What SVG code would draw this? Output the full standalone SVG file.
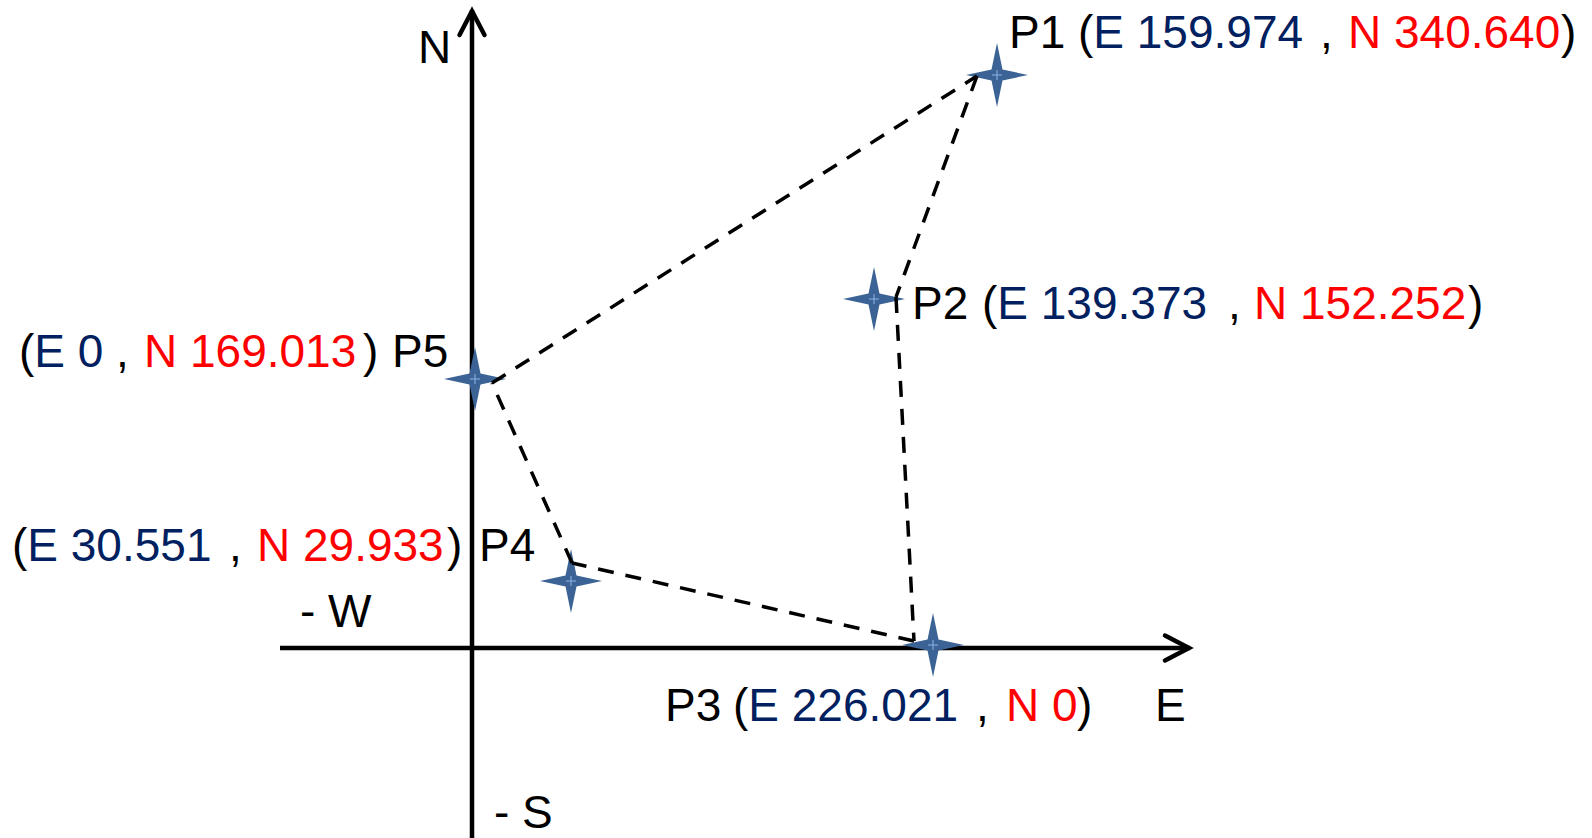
<svg xmlns="http://www.w3.org/2000/svg" width="1592" height="838" viewBox="0 0 1592 838">
  <style>
    text { font-family: "Liberation Sans", Arial, sans-serif; font-size: 46px; fill: #000; }
    .e { fill: #002060; }
    .n { fill: #FF0000; }
    .axis { stroke: #000; stroke-width: 4.5; fill: none; }
    .dash { stroke: #000; stroke-width: 3.5; fill: none; stroke-dasharray: 16 12; }
    .star { fill: #3C6396; }
    .glint { stroke: #8FB4E3; stroke-width: 1; }
  </style>
  <defs>
    <path id="star4" d="M0,-32 L5.5,-5.5 L31,0 L5.5,5.5 L0,32 L-5.5,5.5 L-31,0 L-5.5,-5.5 Z"/>
    <marker id="chev" markerUnits="userSpaceOnUse" viewBox="-30 -16 36 32" markerWidth="36" markerHeight="32" refX="0" refY="0" orient="auto">
      <path d="M-25,-12.5 L-1,0 L-25,12.5" fill="none" stroke="#000" stroke-width="4.5" stroke-linecap="round" stroke-linejoin="miter"/>
    </marker>
  </defs>
  <rect width="1592" height="838" fill="#fff"/>

  <g id="axes">
    <line class="axis" x1="472" y1="838" x2="472" y2="10" marker-end="url(#chev)"/>
    <line class="axis" x1="280" y1="648" x2="1190" y2="648" marker-end="url(#chev)"/>
    <text x="418" y="63">N</text>
    <text x="1155" y="721">E</text>
    <text x="300" y="627">- W</text>
    <text x="494" y="828">- S</text>
  </g>

  <g id="P1">
    <use href="#star4" class="star" x="997" y="75"/>
    <path class="glint" d="M992,75 H1002 M997,70 V80"/>
    <text y="48"><tspan x="1009">P1</tspan><tspan x="1078">(</tspan><tspan class="e">E 159.974</tspan><tspan x="1320">,</tspan><tspan class="n" x="1348">N 340.640</tspan><tspan x="1561">)</tspan></text>
  </g>

  <g id="P2">
    <use href="#star4" class="star" x="874" y="299"/>
    <path class="glint" d="M869,299 H879 M874,294 V304"/>
    <text y="319"><tspan x="912">P2</tspan><tspan x="982">(</tspan><tspan class="e">E 139.373</tspan><tspan x="1228">,</tspan><tspan class="n" x="1254">N 152.252</tspan><tspan x="1468">)</tspan></text>
  </g>

  <g id="P3">
    <use href="#star4" class="star" x="933" y="645"/>
    <path class="glint" d="M928,645 H938 M933,640 V650"/>
    <text y="721"><tspan x="665">P3</tspan><tspan x="733">(</tspan><tspan class="e">E 226.021</tspan><tspan x="976">,</tspan><tspan class="n" x="1006">N 0</tspan><tspan x="1077">)</tspan></text>
  </g>

  <g id="P4">
    <use href="#star4" class="star" x="571" y="581"/>
    <path class="glint" d="M566,581 H576 M571,576 V586"/>
    <text y="561"><tspan x="12">(</tspan><tspan class="e">E 30.551</tspan><tspan x="229">,</tspan><tspan class="n" x="257">N 29.933</tspan><tspan x="447">)</tspan><tspan x="479">P4</tspan></text>
  </g>

  <g id="P5">
    <use href="#star4" class="star" x="475" y="379"/>
    <path class="glint" d="M470,379 H480 M475,374 V384"/>
    <text y="367"><tspan x="19">(</tspan><tspan class="e">E 0</tspan><tspan x="116">,</tspan><tspan class="n" x="144">N 169.013</tspan><tspan x="363">)</tspan><tspan x="392">P5</tspan></text>
  </g>

  <g id="connectors">
    <line class="dash" x1="492" y1="383" x2="977" y2="76"/>
    <line class="dash" x1="977" y1="76" x2="896" y2="297"/>
    <line class="dash" x1="896" y1="297" x2="914" y2="641"/>
    <line class="dash" x1="914" y1="641" x2="572" y2="563"/>
    <line class="dash" x1="572" y1="563" x2="492" y2="383"/>
  </g>
</svg>
